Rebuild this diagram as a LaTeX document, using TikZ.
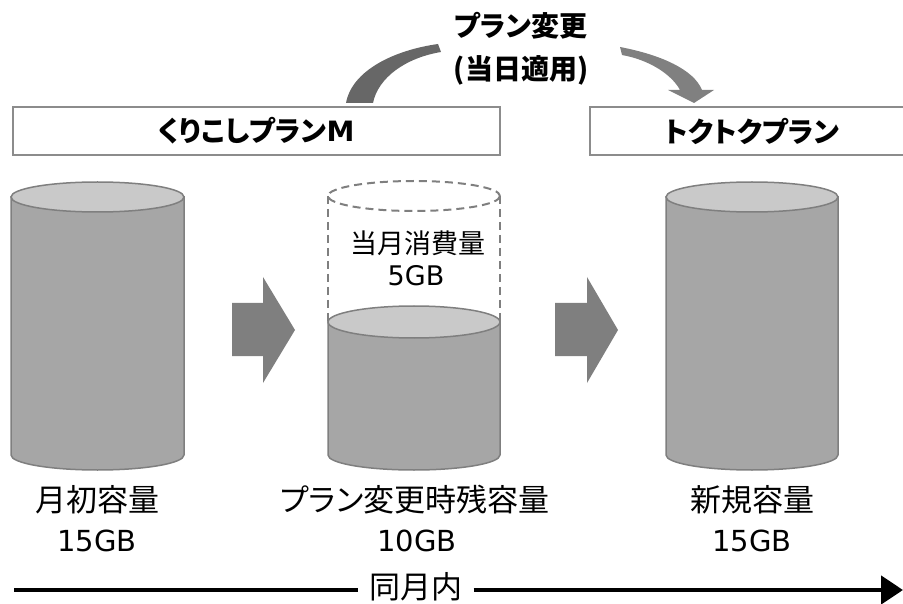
\documentclass[tikz,border=0pt]{standalone}
\usepackage{fontspec}
\setmainfont{Noto Sans CJK JP}[RawFeature=+palt]
\newfontfamily\lat{DejaVu Sans}
\usetikzlibrary{arrows.meta}
\definecolor{cbody}{HTML}{A6A6A6}
\definecolor{ctop}{HTML}{C9C9C9}
\definecolor{cline}{HTML}{7F7F7F}
\definecolor{carrow}{HTML}{7F7F7F}
\definecolor{ccurveA}{HTML}{676767}
\definecolor{ccurveB}{HTML}{808080}
\definecolor{cbox}{HTML}{8C8C8C}
\begin{document}
\begin{tikzpicture}[x=1pt,y=-1pt,
 cylbody/.style={fill=cbody,draw=cline,line width=1.5pt},
 cyltop/.style={fill=ctop,draw=cline,line width=1.5pt},
 ghost/.style={draw=cline,line width=2pt,dash pattern=on 8pt off 5pt},
 blockarrow/.style={fill=carrow},
 planbox/.style={draw=cbox,line width=1.5pt,fill=white,inner sep=0pt},
 lbl/.style={font=\fontsize{31}{31}\selectfont,inner sep=0pt},
 num/.style={font=\fontsize{29}{29}\selectfont\lat,inner sep=0pt},
 ttl/.style={font=\fontsize{28}{28}\selectfont\bfseries,inner sep=0pt},
 ghosttxt/.style={font=\fontsize{27}{27}\selectfont,inner sep=0pt},
 ghostnum/.style={font=\fontsize{27}{27}\selectfont\lat,inner sep=0pt},
 timeline/.style={line width=4.5pt},
 timearrow/.style={line width=4.5pt,-{Triangle[length=22pt,width=28pt]}},
]
\useasboundingbox (0,0) rectangle (903,604);

% title
\node[ttl] (title1) at (521,26) {プラン変更};
\node[ttl] (title2) at (521,70) {(当日適用)};

% plan boxes
\node[planbox,ttl,minimum width=487pt,minimum height=48pt] (boxA) at (256.5,131) {くりこしプラン{\lat M}};
\node[planbox,ttl,minimum width=324pt,minimum height=48pt] (boxB) at (752,131) {トクトクプラン};

% curved arrows
\fill[ccurveA] (346,103) .. controls (352,70) and (395,50) .. (438,44) -- (441,52) .. controls (405,58) and (378,78) .. (373,103) -- cycle;
\fill[ccurveB] (620,47) .. controls (662,55) and (694,70) .. (702,90) -- (714,90) -- (694,103) -- (668,90) -- (680,90) .. controls (672,75) and (650,60) .. (622,55) -- cycle;

% cylinder 1
\coordinate (cylA) at (97.5,197);
\filldraw[cylbody] (11,197) -- (11,455) arc[start angle=180,end angle=0,x radius=86.5,y radius=15] -- (184,197) -- cycle;
\filldraw[cyltop] (cylA) ellipse[x radius=86.5,y radius=15];

% cylinder 2 (remaining)
\coordinate (cylB) at (414,322);
\draw[ghost] (414,196) ellipse[x radius=86,y radius=15];
\draw[ghost] (328,196) -- (328,322);
\draw[ghost] (500,196) -- (500,322);
\filldraw[cylbody] (328,322) -- (328,455) arc[start angle=180,end angle=0,x radius=86,y radius=15] -- (500,322) -- cycle;
\filldraw[cyltop] (cylB) ellipse[x radius=86,y radius=16];
\node[ghosttxt] (usedA) at (418,243) {当月消費量};
\node[ghostnum] (usedB) at (416,276) {5GB};

% cylinder 3
\coordinate (cylC) at (752,197);
\filldraw[cylbody] (666,197) -- (666,455) arc[start angle=180,end angle=0,x radius=86,y radius=15] -- (838,197) -- cycle;
\filldraw[cyltop] (cylC) ellipse[x radius=86,y radius=15];

% block arrows
\fill[blockarrow] (232,303) -- (263,303) -- (263,277) -- (295,330) -- (263,383) -- (263,356) -- (232,356) -- cycle;
\fill[blockarrow] (555,303) -- (587,303) -- (587,277) -- (618,330) -- (587,383) -- (587,356) -- (555,356) -- cycle;

% labels
\node[lbl] (labA1) at (97,500) {月初容量};
\node[num] (labA2) at (97,541) {15GB};
\node[lbl] (labB1) at (415,500) {プラン変更時残容量};
\node[num] (labB2) at (417,541) {10GB};
\node[lbl] (labC1) at (752,500) {新規容量};
\node[num] (labC2) at (752,541) {15GB};

% timeline
\coordinate (tl0) at (14,590);
\coordinate (tl1) at (903,590);
\node[lbl,fill=white,inner xsep=11pt,inner ysep=0pt] (month) at (416,587) {同月内};
\draw[timeline] (tl0) -- (tl0 -| month.west);
\draw[timearrow] (tl1 -| month.east) -- (tl1);
\end{tikzpicture}
\end{document}
